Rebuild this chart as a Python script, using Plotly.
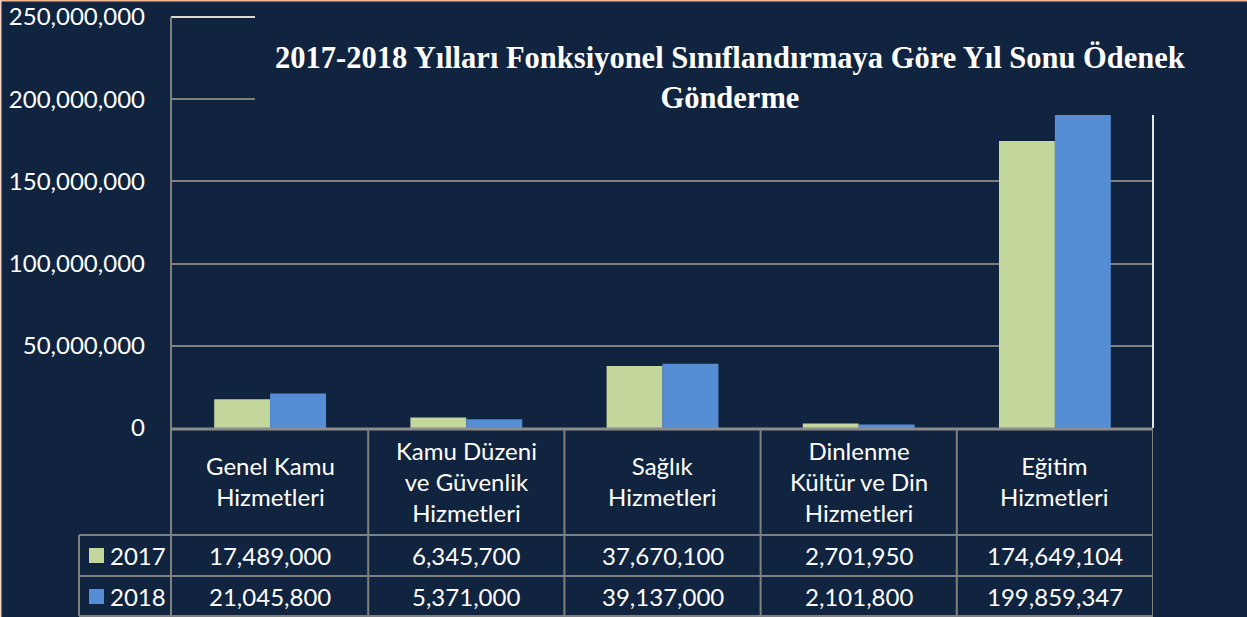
import plotly.graph_objects as go

categories = ["Genel Kamu Hizmetleri", "Kamu Düzeni ve Güvenlik Hizmetleri", "Sağlık Hizmetleri",
              "Dinlenme Kültür ve Din Hizmetleri", "Eğitim Hizmetleri"]
header_labels = ["Genel Kamu<br>Hizmetleri", "Kamu Düzeni<br>ve Güvenlik<br>Hizmetleri", "Sağlık<br>Hizmetleri",
                 "Dinlenme<br>Kültür ve Din<br>Hizmetleri", "Eğitim<br>Hizmetleri"]
series_names = ["2017", "2018"]
values_2017 = [17489000, 6345700, 37670100, 2701950, 174649104]
values_2018 = [21045800, 5371000, 39137000, 2101800, 199859347]
title_text = "2017-2018 Yılları Fonksiyonel Sınıflandırmaya Göre Yıl Sonu Ödenek<br>Gönderme"

BG = "#11243f"
GREEN = "#c3d69b"
BLUE = "#558ed5"
GRID = "#808080"
W, H = 1247, 617
L, R, T, B = 172, 1153, 17, 428  # plot area in pixels
FS = 24


def px(x):
    return (x - L) / (R - L)


def py(y):
    return (B - y) / (B - T)


fig = go.Figure()
fig.add_trace(go.Bar(x=categories, y=values_2017, name=series_names[0], marker_color=GREEN,
                     marker_line_width=0))
fig.add_trace(go.Bar(x=categories, y=values_2018, name=series_names[1], marker_color=BLUE,
                     marker_line_width=0))

shapes = []
annotations = []

# title cover box (hides part of the plot area)
shapes.append(dict(type="rect", xref="paper", yref="paper", x0=px(255), x1=px(1240), y0=py(115), y1=py(3),
                   fillcolor=BG, line_width=0, layer="above"))
# top white border segment and right border
shapes.append(dict(type="line", xref="paper", yref="paper", x0=px(171), x1=px(255), y0=py(17), y1=py(17),
                   line=dict(color="#d9d9d9", width=2), layer="above"))
shapes.append(dict(type="line", xref="paper", yref="paper", x0=px(1153), x1=px(1153), y0=py(428), y1=py(115),
                   line=dict(color="#e6e6e6", width=2), layer="above"))
# left axis line extended into table
shapes.append(dict(type="line", xref="paper", yref="paper", x0=px(171), x1=px(171), y0=py(616), y1=py(17),
                   line=dict(color=GRID, width=2), layer="above"))
# zero line
shapes.append(dict(type="line", xref="paper", yref="paper", x0=px(171), x1=px(1153), y0=py(429), y1=py(429),
                   line=dict(color="#8c8c8c", width=3), layer="above"))
# table horizontal lines
for yy in [535, 576, 616]:
    shapes.append(dict(type="line", xref="paper", yref="paper", x0=px(79), x1=px(1153), y0=py(yy), y1=py(yy),
                       line=dict(color=GRID, width=2), layer="above"))
# legend column left border
shapes.append(dict(type="line", xref="paper", yref="paper", x0=px(79), x1=px(79), y0=py(616), y1=py(535),
                   line=dict(color=GRID, width=2), layer="above"))
# column dividers
for i in range(len(categories)):
    xb = i + 0.5
    shapes.append(dict(type="line", xref="x", yref="paper", x0=xb, x1=xb, y0=py(616), y1=py(430),
                       line=dict(color=GRID, width=2), layer="above"))

# header labels and values
for i, lab in enumerate(header_labels):
    annotations.append(dict(x=i, xref="x", y=py(481), yref="paper", text=lab, showarrow=False,
                            font=dict(family="Lato", size=FS, color="white"), align="center",
                            xanchor="center", yanchor="middle"))
    annotations.append(dict(x=i, xref="x", y=py(555), yref="paper", text=f"{values_2017[i]:,}", showarrow=False,
                            font=dict(family="Lato", size=FS, color="white"), xanchor="center", yanchor="middle"))
    annotations.append(dict(x=i, xref="x", y=py(596), yref="paper", text=f"{values_2018[i]:,}", showarrow=False,
                            font=dict(family="Lato", size=FS, color="white"), xanchor="center", yanchor="middle"))

# legend keys
for k, (name, col) in enumerate(zip(series_names, [GREEN, BLUE])):
    yc = 555 + 41 * k
    shapes.append(dict(type="rect", xref="paper", yref="paper", x0=px(89), x1=px(104), y0=py(yc + 8),
                       y1=py(yc - 7), fillcolor=col, line_width=0, layer="above"))
    annotations.append(dict(x=px(108), xref="paper", y=py(yc), yref="paper", text=name, showarrow=False,
                            font=dict(family="Lato", size=FS, color="white"), xanchor="left", yanchor="middle"))

# title
annotations.append(dict(x=px(730), xref="paper", y=py(78), yref="paper", text="<b>" + title_text + "</b>",
                        showarrow=False, align="center",
                        font=dict(family="Liberation Serif", size=30.5, color="white"),
                        xanchor="center", yanchor="middle"))

# outer border (top/left)
shapes.append(dict(type="line", xref="paper", yref="paper", x0=px(0), x1=px(1247), y0=py(0.5), y1=py(0.5),
                   line=dict(color="#f0b890", width=2), layer="above"))
shapes.append(dict(type="line", xref="paper", yref="paper", x0=px(0.5), x1=px(0.5), y0=py(617), y1=py(0),
                   line=dict(color="#f6d0c0", width=2), layer="above"))

fig.update_layout(
    width=W, height=H, autosize=False,
    margin=dict(l=L, r=W - R, t=T, b=H - B, pad=0, autoexpand=False),
    paper_bgcolor=BG, plot_bgcolor=BG,
    barmode="group", bargap=0.43, bargroupgap=0,
    showlegend=False,
    shapes=shapes, annotations=annotations,
    font=dict(family="Lato", color="white"),
)
fig.update_xaxes(showticklabels=False, showgrid=False, showline=False, zeroline=False, ticks="",
                 range=[-0.5, 4.5], automargin=False)
fig.update_yaxes(range=[0, 250000000], dtick=50000000, tickformat=",", showgrid=True, gridcolor=GRID,
                 gridwidth=2, zeroline=False, showline=False, ticks="", ticklabelstandoff=26,
                 automargin=False, tickfont=dict(family="Lato", size=FS, color="white"))

fig.write_html("out.html", config={"displayModeBar": False},
               post_script="document.body.style.margin='0';document.body.style.background='" + BG + "';"
                           "document.body.style.overflow='hidden';")
